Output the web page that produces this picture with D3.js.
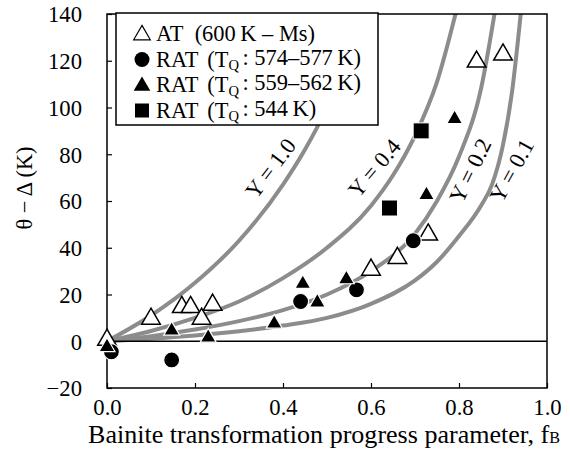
<!DOCTYPE html>
<html>
<head>
<meta charset="utf-8">
<script src="https://cdn.jsdelivr.net/npm/d3@7"></script>
</head>
<body style="margin:0; background:#fff">
<svg id="chart" width="570" height="468" font-family="Liberation Serif"></svg>
<script>
// model curves
var curveNames = ["Y = 1.0", "Y = 0.4", "Y = 0.2", "Y = 0.1"];
var y10F = [0, 0.1, 0.2, 0.3, 0.4, 0.45, 0.5, 0.55, 0.59];
var y10V = [0, 11, 25, 43, 67, 82, 100, 122, 145];
var y04F = [0, 0.1, 0.2, 0.3, 0.4, 0.5, 0.6, 0.65, 0.7, 0.75, 0.8];
var y04V = [0, 4.4, 10, 17, 27, 40, 58, 71, 88, 111, 146];
var y02F = [0, 0.1, 0.2, 0.3, 0.4, 0.5, 0.6, 0.7, 0.75, 0.8, 0.85, 0.885];
var y02V = [0, 2.2, 5, 8.6, 13.3, 20, 30, 46, 60, 79, 108, 145];
var y01F = [0, 0.1, 0.2, 0.3, 0.4, 0.5, 0.6, 0.7, 0.75, 0.8, 0.85, 0.875, 0.9, 0.92, 0.943];
var y01V = [0, 1.1, 2.5, 4.3, 6.7, 10, 16, 26, 34, 45, 58, 67, 84, 106, 145];

// measured points
var atF = [0.0, 0.10, 0.17, 0.19, 0.215, 0.24, 0.60, 0.66, 0.73, 0.84, 0.90];
var atV = [1, 10, 15, 15, 10, 16, 31, 36, 46, 120, 123];
var rat1F = [0.01, 0.147, 0.44, 0.567, 0.696];
var rat1V = [-4.5, -8, 17, 22, 43];
var rat2F = [0.0, 0.147, 0.23, 0.38, 0.445, 0.478, 0.544, 0.726, 0.79];
var rat2V = [-2, 5, 2, 8, 25, 17, 27, 63, 95.5];
var rat3F = [0.642, 0.714];
var rat3V = [57, 90];

var xTicks = [0, 0.2, 0.4, 0.6, 0.8, 1.0];
var yTicks = [-20, 0, 20, 40, 60, 80, 100, 120, 140];

var FONT = "Liberation Serif";
var svg = d3.select("#chart");
var x = d3.scaleLinear().domain([0, 1]).range([107, 547]);
var y = d3.scaleLinear().domain([-20, 140]).range([388, 14]);

function zip(a, b) { return a.map(function (d, i) { return [d, b[i]]; }); }

// scale a text's font size so it spans the width seen in the picture
function fitWidth(sel, target) {
    var fs = +sel.attr("font-size");
    var w = sel.node().getComputedTextLength();
    var nfs = fs * target / w;
    sel.attr("font-size", nfs);
    return nfs;
}

svg.append("clipPath").attr("id", "plotClip")
    .append("rect").attr("x", 107).attr("y", 14).attr("width", 440).attr("height", 374);

// curves
var line = d3.line()
    .x(function (d) { return x(d[0]); })
    .y(function (d) { return y(d[1]); })
    .curve(d3.curveMonotoneX);

var curves = [zip(y10F, y10V), zip(y04F, y04V), zip(y02F, y02V), zip(y01F, y01V)];
svg.append("g").attr("clip-path", "url(#plotClip)")
    .selectAll("path").data(curves).enter().append("path")
    .attr("d", line)
    .attr("fill", "none")
    .attr("stroke", "#8c8c8c")
    .attr("stroke-width", 4);

// zero line
svg.append("line")
    .attr("x1", x(0)).attr("x2", x(1))
    .attr("y1", y(0)).attr("y2", y(0))
    .attr("stroke", "#000").attr("stroke-width", 1.5);

// curve labels
var labelPos = [[0.372, 74, -53], [0.608, 74, -50], [0.826, 73, -64], [0.92, 73, -61]];
var clab = svg.selectAll(".clab").data(curveNames).enter().append("text")
    .attr("class", "clab")
    .attr("text-anchor", "middle")
    .attr("dominant-baseline", "central")
    .attr("font-size", 20)
    .attr("font-family", FONT)
    .attr("transform", function (d, i) {
        var p = labelPos[i];
        return "translate(" + x(p[0]) + "," + y(p[1]) + ")rotate(" + p[2] + ")";
    })
    .text(function (d) { return d; });
var clabSize = fitWidth(d3.select(clab.nodes()[0]), 68);
clab.attr("font-size", clabSize);

// axes
var xAxis = d3.axisBottom(x).tickValues(xTicks).tickSizeInner(-5).tickSizeOuter(0)
    .tickFormat(d3.format(".1f"));
var yAxis = d3.axisLeft(y).tickValues(yTicks).tickSizeInner(-5).tickSizeOuter(0);

var gx = svg.append("g").attr("transform", "translate(0," + y(-20) + ")").call(xAxis)
    .attr("font-family", FONT);
gx.select(".domain").remove();
gx.selectAll("line").attr("stroke-width", 1.2);

var gy = svg.append("g").attr("transform", "translate(" + x(0) + ",0)").call(yAxis)
    .attr("font-family", FONT);
gy.select(".domain").remove();
gy.selectAll("line").attr("stroke-width", 1.2);

var ytxt = gy.selectAll("text").attr("font-size", 20);
var tickSize = fitWidth(ytxt.filter(function (d) { return d === 140; }), 34);
ytxt.attr("font-size", tickSize).attr("x", -25).attr("dy", "0.35em");
gx.selectAll("text").attr("font-size", tickSize).attr("dy", null).attr("y", 27);

// frame
svg.append("rect")
    .attr("x", x(0)).attr("y", y(140))
    .attr("width", x(1) - x(0)).attr("height", y(-20) - y(140))
    .attr("fill", "none").attr("stroke", "#000").attr("stroke-width", 1.5);

// markers
svg.append("g").selectAll("path").data(zip(atF, atV)).enter().append("path")
    .attr("d", d3.symbol().type(d3.symbolTriangle).size(150))
    .attr("transform", function (d) { return "translate(" + x(d[0]) + "," + (y(d[1]) + 1) + ")"; })
    .attr("fill", "#fff").attr("stroke", "#000").attr("stroke-width", 1.5);

svg.append("g").selectAll("circle").data(zip(rat1F, rat1V)).enter().append("circle")
    .attr("cx", function (d) { return x(d[0]); })
    .attr("cy", function (d) { return y(d[1]); })
    .attr("r", 8)
    .attr("fill", "#000").attr("stroke", "#fff").attr("stroke-width", 1.2);

svg.append("g").selectAll("path").data(zip(rat2F, rat2V)).enter().append("path")
    .attr("d", d3.symbol().type(d3.symbolTriangle).size(110))
    .attr("transform", function (d) { return "translate(" + x(d[0]) + "," + (y(d[1]) + 1) + ")"; })
    .attr("fill", "#000").attr("stroke", "#fff").attr("stroke-width", 1.2);

svg.append("g").selectAll("rect").data(zip(rat3F, rat3V)).enter().append("rect")
    .attr("x", function (d) { return x(d[0]) - 8; })
    .attr("y", function (d) { return y(d[1]) - 8; })
    .attr("width", 16).attr("height", 16)
    .attr("fill", "#000").attr("stroke", "#fff").attr("stroke-width", 1);

// legend
var lg = svg.append("g").attr("font-family", FONT);
lg.append("rect").attr("x", 116).attr("y", 13).attr("width", 262).attr("height", 112)
    .attr("fill", "#fff").attr("stroke", "#000").attr("stroke-width", 1.5);

var legRows = [
    {sym: "open", main: "AT", tail: "(600\u2009K \u2013 Ms)"},
    {sym: "circle", main: "RAT", tail: ": 574\u2013577\u2009K)"},
    {sym: "tri", main: "RAT", tail: ": 559\u2013562\u2009K)"},
    {sym: "square", main: "RAT", tail: ": 544\u2009K)"}
];
var legTexts = [];
legRows.forEach(function (r, i) {
    var cy = 34 + i * 25.5;
    if (r.sym === "open") {
        lg.append("path").attr("d", d3.symbol().type(d3.symbolTriangle).size(120)())
            .attr("transform", "translate(142," + (cy + 1) + ")")
            .attr("fill", "#fff").attr("stroke", "#000").attr("stroke-width", 1.2);
    } else if (r.sym === "circle") {
        lg.append("circle").attr("cx", 142).attr("cy", cy).attr("r", 7.5).attr("fill", "#000");
    } else if (r.sym === "tri") {
        lg.append("path").attr("d", d3.symbol().type(d3.symbolTriangle).size(120)())
            .attr("transform", "translate(142," + (cy + 1) + ")").attr("fill", "#000");
    } else {
        lg.append("rect").attr("x", 135).attr("y", cy - 7).attr("width", 14).attr("height", 14).attr("fill", "#000");
    }
    var t = lg.append("text").attr("x", 156).attr("y", cy + 7).attr("font-size", 20);
    t.append("tspan").text(r.main);
    if (r.sym === "open") {
        t.append("tspan").attr("dx", "0.5em").text(r.tail);
    } else {
        t.append("tspan").attr("dx", "0.4em").text("(T");
        t.append("tspan").attr("font-size", "65%").attr("dy", "0.25em").text("Q");
        t.append("tspan").attr("dy", "-0.25em").attr("dx", "0.15em").text(r.tail);
    }
    legTexts.push(t);
});
var legSize = fitWidth(legTexts[0], 148);
legTexts.forEach(function (t) { t.attr("font-size", legSize); });

// axis titles
var xt = svg.append("text").attr("x", 324).attr("y", 443).attr("text-anchor", "middle")
    .attr("font-size", 20).attr("font-family", FONT);
xt.append("tspan").text("Bainite transformation progress parameter, f");
xt.append("tspan").attr("font-size", "62%").text("B");
fitWidth(xt, 472);

var yt = svg.append("text")
    .attr("transform", "translate(32,188)rotate(-90)")
    .attr("text-anchor", "middle").attr("font-size", 20).attr("font-family", FONT)
    .text("\u03b8 \u2212 \u0394 (K)");
fitWidth(yt, 83);
</script>
</body>
</html>
